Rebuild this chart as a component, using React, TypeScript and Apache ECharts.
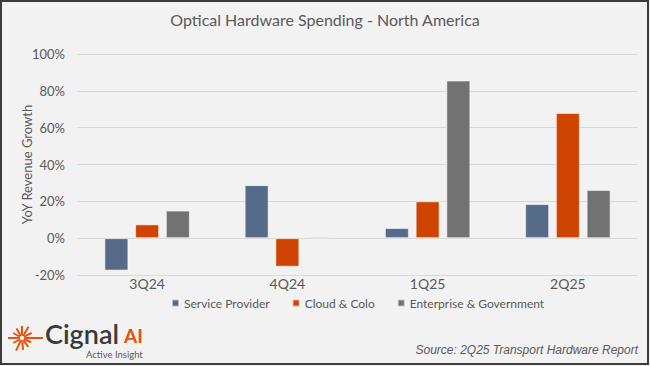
import React, { useEffect, useRef } from "react";
import * as echarts from "echarts";

const categories = ["3Q24", "4Q24", "1Q25", "2Q25"];
const serviceProvider = [-17.6, 28.8, 5.5, 18.5];
const cloudColo = [7.5, -15.5, 20, 68];
const enterpriseGov = [15, 0.8, 85.6, 26.2];
const seriesNames = ["Service Provider", "Cloud & Colo", "Enterprise & Government"];
const yTicks = { min: -20, max: 100, interval: 20 };

const FONT = "Lato";
const TEXT = "#595959";

function sunburst(cx: number, cy: number) {
  const rays: [number, number][] = [
    [0, 21], [28, 11], [60, 13], [90, 12], [120, 11], [150, 10],
    [180, 14], [210, 10], [245, 14], [275, 12], [305, 11], [335, 10],
  ];
  const els: any[] = rays.map(([deg, len]) => {
    const a = (deg * Math.PI) / 180;
    const r0 = 3.5;
    return {
      type: "line",
      shape: {
        x1: cx + Math.cos(a) * r0,
        y1: cy - Math.sin(a) * r0,
        x2: cx + Math.cos(a) * len,
        y2: cy - Math.sin(a) * len,
      },
      style: { stroke: "#E0540F", lineWidth: 2 },
    };
  });
  els.push({
    type: "circle",
    shape: { cx, cy, r: 3 },
    style: { fill: "#F2F2F2", stroke: "#E0540F", lineWidth: 1.5 },
  });
  return els;
}

export default function App() {
  const ref = useRef<HTMLDivElement>(null);
  useEffect(() => {
    document.body.style.margin = "0";
    const chart = echarts.init(ref.current!, null, { renderer: "svg" });
    const mkSeries = (name: string, data: number[], color: string) => ({
      name,
      type: "bar",
      data,
      barWidth: 24,
      barGap: "28%",
      itemStyle: { color, borderColor: "rgba(255,255,255,0.55)", borderWidth: 1 },
    });
    chart.setOption({
      animation: false,
      backgroundColor: "#F2F2F2",
      title: {
        text: "Optical Hardware Spending - North America",
        left: "center",
        top: 6,
        textStyle: { fontFamily: FONT, fontSize: 16, fontWeight: "normal", color: TEXT },
      },
      grid: { left: 77, right: 12, top: 54, bottom: 91 },
      legend: {
        left: 166,
        top: 292,
        icon: "rect",
        itemWidth: 7,
        itemHeight: 7,
        itemGap: 22,
        textStyle: { fontFamily: FONT, fontSize: 12, color: TEXT },
        data: seriesNames,
      },
      xAxis: {
        type: "category",
        data: categories,
        axisLine: { show: false, onZero: false },
        axisTick: { show: false },
        axisLabel: { fontFamily: FONT, fontSize: 14, color: TEXT, margin: 1 },
      },
      yAxis: {
        type: "value",
        min: yTicks.min,
        max: yTicks.max,
        interval: yTicks.interval,
        axisLabel: { formatter: "{value}%", fontFamily: FONT, fontSize: 13, color: TEXT, margin: 12 },
        splitLine: { lineStyle: { color: "#D9D9D9", width: 1 } },
        axisLine: { show: false },
        axisTick: { show: false },
        name: "YoY Revenue Growth",
        nameLocation: "middle",
        nameGap: 44,
        nameMoveOverlap: false,
        nameTextStyle: { fontFamily: FONT, fontSize: 13, color: TEXT },
      },
      series: [
        mkSeries(seriesNames[0], serviceProvider, "#566B8A"),
        mkSeries(seriesNames[1], cloudColo, "#CF4400"),
        mkSeries(seriesNames[2], enterpriseGov, "#727272"),
      ],
      graphic: [
        {
          type: "rect",
          shape: { x: 1, y: 1, width: 647, height: 363 },
          style: { fill: "none", stroke: "#3C3C3C", lineWidth: 2 },
          silent: true,
        },
        ...sunburst(22, 338),
        {
          type: "text",
          x: 45,
          y: 347,
          style: {
            text: "Cignal",
            fontFamily: FONT,
            fontSize: 27,
            fontWeight: 600,
            fill: "#3A3A3A",
            verticalAlign: "bottom",
          },
        },
        {
          type: "text",
          x: 124,
          y: 345,
          style: {
            text: "AI",
            fontFamily: FONT,
            fontSize: 19,
            fontWeight: "bold",
            fill: "#E0540F",
            verticalAlign: "bottom",
          },
        },
        {
          type: "text",
          x: 86,
          y: 349.5,
          style: {
            text: "Active Insight",
            fontFamily: FONT,
            fontSize: 9.5,
            fill: "#595959",
            verticalAlign: "top",
          },
        },
        {
          type: "text",
          right: 12,
          top: 344,
          style: {
            text: "Source: 2Q25 Transport Hardware Report",
            fontFamily: "Liberation Sans",
            fontStyle: "italic",
            fontSize: 12,
            fill: TEXT,
          },
        },
      ],
    });
    return () => chart.dispose();
  }, []);
  return (
    <div
      ref={ref}
      style={{ position: "fixed", left: 0, top: 0, width: 650, height: 366 }}
    />
  );
}
